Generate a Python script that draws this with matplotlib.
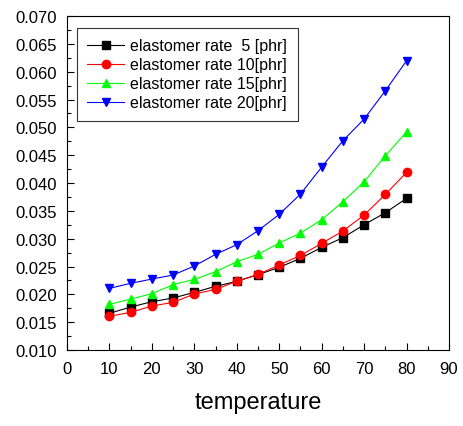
import matplotlib
matplotlib.use("Agg")
import matplotlib.pyplot as plt
from matplotlib.ticker import MultipleLocator

plt.rcParams['font.family'] = ['Liberation Sans', 'DejaVu Sans']

temperature = [10, 15, 20, 25, 30, 35, 40, 45, 50, 55, 60, 65, 70, 75, 80]
rate5 = [0.01659, 0.01772, 0.01868, 0.01934, 0.02036, 0.02144, 0.02234, 0.02353,
         0.02485, 0.02647, 0.02844, 0.03018, 0.03251, 0.03467, 0.03725]
rate10 = [0.01605, 0.01677, 0.01790, 0.01856, 0.02006, 0.02090, 0.02234, 0.02359,
          0.02527, 0.02700, 0.02916, 0.03138, 0.03425, 0.03796, 0.04192]
rate15 = [0.01820, 0.01916, 0.02012, 0.02174, 0.02270, 0.02407, 0.02587, 0.02719,
          0.02922, 0.03102, 0.03341, 0.03665, 0.04024, 0.04491, 0.04922]
rate20 = [0.02108, 0.02198, 0.02275, 0.02347, 0.02509, 0.02719, 0.02892, 0.03144,
          0.03437, 0.03802, 0.04287, 0.04760, 0.05150, 0.05659, 0.06198]
labels = ["elastomer rate  5 [phr]", "elastomer rate 10[phr]",
          "elastomer rate 15[phr]", "elastomer rate 20[phr]"]

fig = plt.figure(figsize=(4.63, 4.27), dpi=100)
ax = fig.add_axes([0.1447, 0.178, 0.8251, 0.782])

series = [rate5, rate10, rate15, rate20]
styles = [('black', 's'), ('red', 'o'), ('#00ff00', '^'), ('blue', 'v')]
for vals, (c, m), lab in zip(series, styles, labels):
    ax.plot(temperature, vals, color=c, marker=m, markersize=6, linewidth=0.8, label=lab)

ax.set_xlim(0, 90)
ax.set_ylim(0.010, 0.070)
ax.xaxis.set_major_locator(MultipleLocator(10))
ax.xaxis.set_minor_locator(MultipleLocator(5))
ax.yaxis.set_major_locator(MultipleLocator(0.005))
ax.yaxis.set_minor_locator(MultipleLocator(0.0025))
ax.yaxis.set_major_formatter(matplotlib.ticker.FormatStrFormatter('%.3f'))
ax.tick_params(which='both', direction='in', top=False, right=False, labelsize=12, width=0.8)
ax.tick_params(which='major', length=5)
ax.tick_params(which='minor', length=3)
ax.tick_params(axis='x', which='major', pad=8)
ax.tick_params(axis='y', which='major', pad=7)
for s in ax.spines.values():
    s.set_linewidth(0.8)
ax.set_xlabel('temperature', fontsize=17, labelpad=11)

leg = ax.legend(loc='upper left', bbox_to_anchor=(0.026, 0.964), fontsize=11.5,
                frameon=True, fancybox=False, edgecolor='black', handlelength=2.3,
                borderpad=0.65, labelspacing=0.25, handletextpad=0.4, borderaxespad=0)
leg.get_frame().set_linewidth(0.8)

fig.savefig('out.png', dpi=100)
